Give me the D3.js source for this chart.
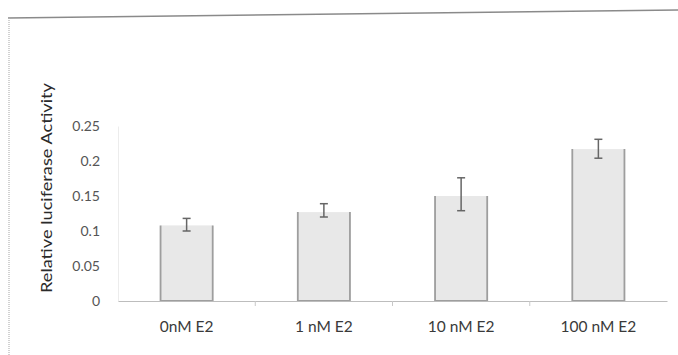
<!DOCTYPE html>
<html>
<head>
<meta charset="utf-8">
<script src="https://cdn.jsdelivr.net/npm/d3@7"></script>
<style>
  body { margin: 0; background: #fff; }
  svg { display: block; }
</style>
</head>
<body>
<div id="chart"></div>
<script>
// valores
var categorias = ["0nM E2", "1 nM E2", "10 nM E2", "100 nM E2"];
var actividad = [0.108, 0.127, 0.150, 0.217];
var errorBajo = [0.100, 0.120, 0.129, 0.204];
var errorAlto = [0.118, 0.139, 0.176, 0.231];
var ticksY = [0, 0.05, 0.1, 0.15, 0.2, 0.25];

var W = 678, H = 355;
var margin = { top: 125, right: 11, bottom: 54, left: 118 },
    width = W - margin.left - margin.right,
    height = H - margin.top - margin.bottom;

var svg = d3.select("#chart").append("svg")
    .attr("width", W)
    .attr("height", H);

// marco del grafico (escaneado)
svg.append("line")
    .attr("x1", 8).attr("y1", 18).attr("x2", 678).attr("y2", 10)
    .attr("stroke", "#8a8a8a").attr("stroke-width", 1.6);
svg.append("line")
    .attr("x1", 9).attr("y1", 18).attr("x2", 9).attr("y2", 355)
    .attr("stroke", "#b5b5b5").attr("stroke-width", 1.2)
    .attr("stroke-dasharray", "1,1");

var g = svg.append("g")
    .attr("transform", "translate(" + margin.left + "," + margin.top + ")");

var x = d3.scaleBand()
    .domain(categorias)
    .range([0, width])
    .paddingInner(0.62)
    .paddingOuter(0.31);

var y = d3.scaleLinear()
    .domain([0, 0.25])
    .range([height, height - 0.25 / 0.05 * 35]);

// eje Y
var yAxis = d3.axisLeft(y)
    .tickValues(ticksY)
    .tickSize(0)
    .tickPadding(18)
    .tickFormat(function(d) { return d3.format("")(+d.toFixed(2)); });

var gy = g.append("g").call(yAxis);
gy.select(".domain").attr("stroke", "#ececec");
gy.selectAll("text")
    .attr("fill", "#555")
    .style("font-family", "Lato, 'Open Sans', sans-serif")
    .style("font-size", "14px");

// barras
g.selectAll(".barra")
    .data(actividad)
    .enter().append("rect")
    .attr("class", "barra")
    .attr("x", function(d, i) { return x(categorias[i]); })
    .attr("y", function(d) { return y(d); })
    .attr("width", x.bandwidth())
    .attr("height", function(d) { return y(0) - y(d); })
    .attr("fill", "#e8e8e8");

// bordes laterales de las barras
g.selectAll(".lado")
    .data(actividad)
    .enter().append("path")
    .attr("class", "lado")
    .attr("d", function(d, i) {
        var x0 = x(categorias[i]), x1 = x0 + x.bandwidth();
        return "M" + x0 + "," + y(d) + "V" + y(0) + "H" + x1 + "V" + y(d);
    })
    .attr("fill", "none")
    .attr("stroke", "#9e9e9e")
    .attr("stroke-width", 1.8);

// eje X
var xAxis = d3.axisBottom(x).tickSize(0).tickPadding(20);
var gx = g.append("g")
    .attr("transform", "translate(0," + height + ")")
    .call(xAxis);
gx.select(".domain").attr("stroke", "#bdbdbd").attr("stroke-width", 1.2);
gx.selectAll("text")
    .attr("fill", "#3a3a3a")
    .style("font-family", "Lato, 'Open Sans', sans-serif")
    .style("font-size", "15.5px");

// marcas entre categorias
g.selectAll(".marca")
    .data(d3.range(1, categorias.length))
    .enter().append("line")
    .attr("class", "marca")
    .attr("x1", function(d) { return d * width / categorias.length; })
    .attr("x2", function(d) { return d * width / categorias.length; })
    .attr("y1", height).attr("y2", height + 5)
    .attr("stroke", "#c8c8c8");

// barras de error
var err = g.selectAll(".error")
    .data(actividad)
    .enter().append("g")
    .attr("class", "error")
    .attr("stroke", "#666")
    .attr("stroke-width", 1.5);

function cx(i) { return x(categorias[i]) + x.bandwidth() / 2; }

err.append("line")
    .attr("x1", function(d, i) { return cx(i); })
    .attr("x2", function(d, i) { return cx(i); })
    .attr("y1", function(d, i) { return y(errorBajo[i]); })
    .attr("y2", function(d, i) { return y(errorAlto[i]); });
err.append("line")
    .attr("x1", function(d, i) { return cx(i) - 4; })
    .attr("x2", function(d, i) { return cx(i) + 4; })
    .attr("y1", function(d, i) { return y(errorBajo[i]); })
    .attr("y2", function(d, i) { return y(errorBajo[i]); });
err.append("line")
    .attr("x1", function(d, i) { return cx(i) - 4; })
    .attr("x2", function(d, i) { return cx(i) + 4; })
    .attr("y1", function(d, i) { return y(errorAlto[i]); })
    .attr("y2", function(d, i) { return y(errorAlto[i]); });

// titulo eje Y
svg.append("text")
    .attr("transform", "translate(52,188) rotate(-90)")
    .attr("text-anchor", "middle")
    .attr("fill", "#2a2a2a")
    .attr("textLength", 210)
    .attr("lengthAdjust", "spacingAndGlyphs")
    .style("font-family", "Lato, 'Open Sans', sans-serif")
    .style("font-size", "16px")
    .text("Relative luciferase Activity");
</script>
</body>
</html>
